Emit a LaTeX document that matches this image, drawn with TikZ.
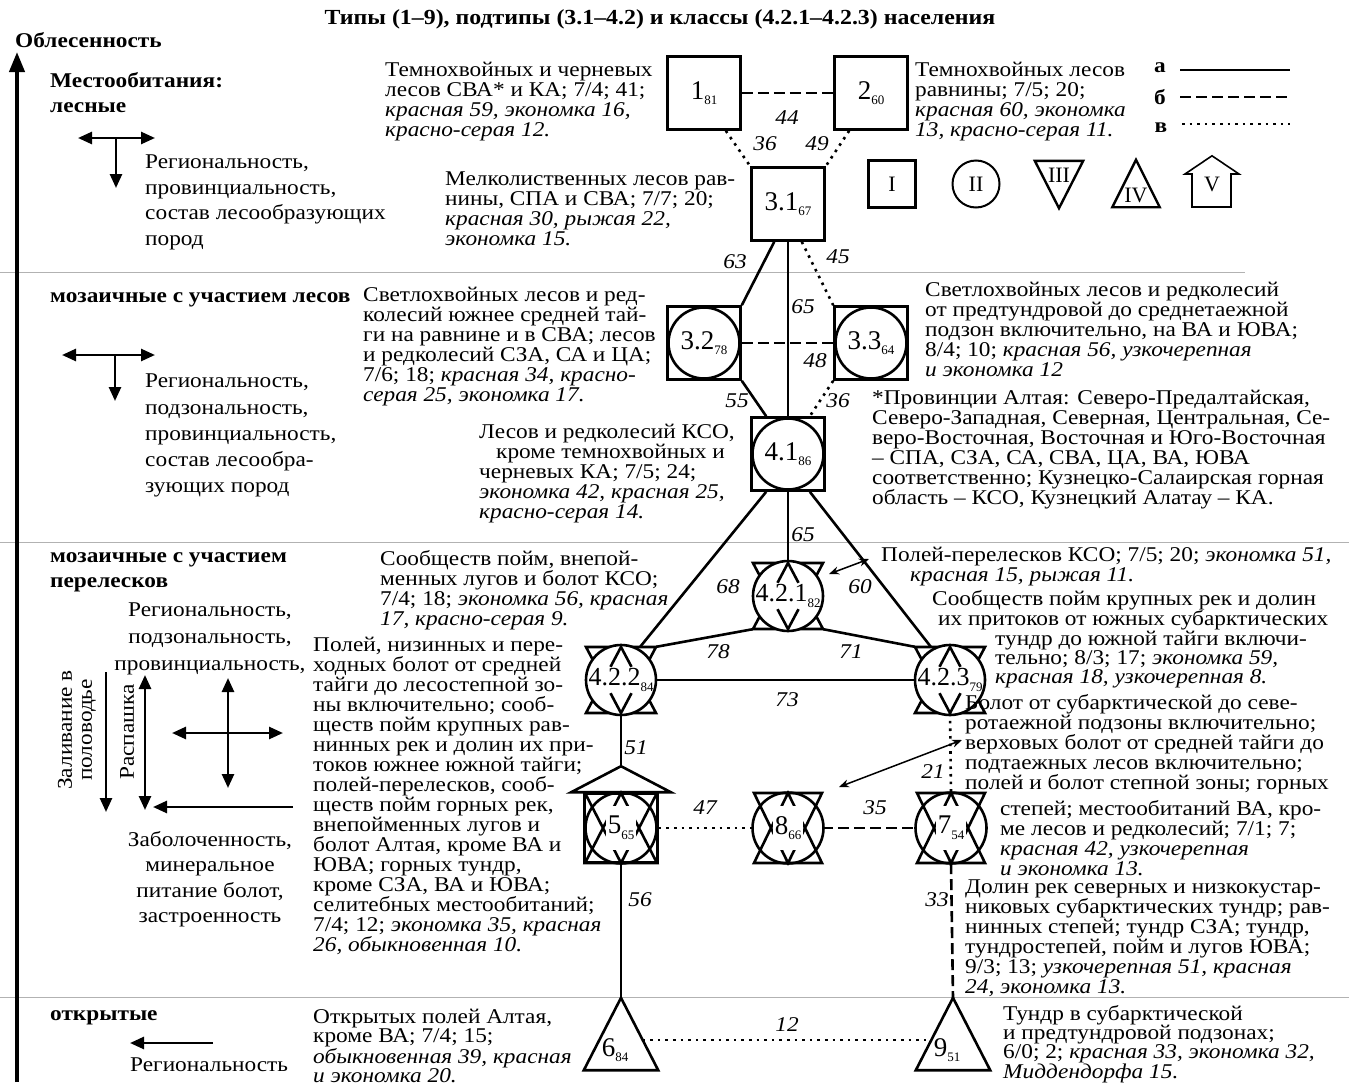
\documentclass[tikz,border=0pt]{standalone}
\usepackage{fontspec}
\setmainfont{Liberation Serif}[FakeStretch=1.11]
\newfontfamily\nstr{Liberation Serif}
\usetikzlibrary{calc,arrows.meta}
\newcommand{\sbs}[1]{\raisebox{-0.45ex}{\fontsize{13}{13}\selectfont #1}}
\newcommand{\tf}{\fontsize{21}{20}\selectfont}
\newcommand{\lf}{\fontsize{21}{25.5}\selectfont}
\newcommand{\hf}{\fontsize{21}{25}\selectfont\bfseries}
\newcommand{\nf}{\nstr\fontsize{27}{27}\selectfont}
\newcommand{\hexag}[3]{%
  \draw[shp] ($(#1)+(-#2,-#3)$) -- ($(#1)+(#2,-#3)$) -- ($(#1)+(0,#3)$) -- cycle
             ($(#1)+(-#2,#3)$) -- ($(#1)+(#2,#3)$) -- ($(#1)+(0,-#3)$) -- cycle;}
\newcommand{\apexm}[3]{%
  \draw[shp] ($(#1)+(-0.3*#2,-0.4*#3)$) -- ($(#1)+(0,-#3)$) -- ($(#1)+(0.3*#2,-0.4*#3)$)
             ($(#1)+(-0.3*#2,0.4*#3)$) -- ($(#1)+(0,#3)$) -- ($(#1)+(0.3*#2,0.4*#3)$);}
\tikzset{
 shp/.style={line width=2.6pt},
 sq/.style={draw, line width=2.6pt, rectangle, minimum size=73pt, inner sep=0pt, font=\nf},
 circ/.style={draw, circle, line width=2.6pt, minimum size=71pt, inner sep=0pt},
 hbox/.style={rectangle, inner sep=0pt, minimum width=70pt, minimum height=66pt},
 hbox2/.style={rectangle, inner sep=0pt, minimum width=68pt, minimum height=70pt},
 tbox/.style={rectangle, inner sep=0pt, minimum width=74pt, minimum height=72pt},
 num/.style={inner sep=0pt, font=\nf},
 numw/.style={inner sep=0pt, font=\nf, fill=white, minimum width=30pt, minimum height=44pt},
 txt/.style={anchor=north west, align=left, inner sep=0pt, font=\tf, yshift=-3pt},
 ltxt/.style={anchor=north west, align=left, inner sep=0pt, font=\lf, yshift=-4pt},
 head/.style={anchor=north west, align=left, inner sep=0pt, font=\hf, yshift=-3pt},
 lbl/.style={inner sep=0pt, font=\tf\itshape},
 con/.style={line width=2.6pt},
 dsh/.style={line width=2.6pt, dash pattern=on 11pt off 5pt},
 dot/.style={line width=2.6pt, dash pattern=on 2.6pt off 5pt},
 sep/.style={gray!60, line width=1pt},
 arr2/.style={line width=2.6pt, {Triangle[length=14pt,width=12pt]}-{Triangle[length=14pt,width=12pt]}},
 arr1/.style={line width=2.6pt, -{Triangle[length=14pt,width=12pt]}},
 thinarr/.style={line width=1.5pt, {Stealth[length=10pt,width=8pt]}-{Stealth[length=10pt,width=8pt]}},
 lgf/.style={inner sep=0pt, font=\nstr\fontsize{22}{22}\selectfont},
}
\begin{document}
\begin{tikzpicture}[x=1pt,y=-1pt]
\useasboundingbox (0,0) rectangle (1349,1084);
% separators
\draw[sep] (0,272) -- (1245,272);
\draw[sep] (0,542) -- (1349,542);
\draw[sep] (0,997) -- (1349,997);
% title and main axis
\node[font=\fontsize{21.5}{21.5}\selectfont\bfseries, inner sep=0pt] (title) at (660,19) {Типы (1–9), подтипы (3.1–4.2) и классы (4.2.1–4.2.3) населения};
\node[head] (hOb) at (15,29) {Облесенность};
\draw[line width=4pt, -{Triangle[length=20pt,width=15pt]}] (17,1082) -- (17,52);
% left column
\node[head] (h1) at (50,69) {Местообитания:\\лесные};
\draw[arr2] (78,138) -- (155,138);
\draw[arr1] (116,138) -- (116,188);
\node[ltxt] (l1) at (145,151) {Региональность,\\провинциальность,\\состав лесообразующих\\пород};
\node[head] (h2) at (50,289) {мозаичные с участием лесов};
\draw[arr2] (62,355) -- (155,355);
\draw[arr1] (115,355) -- (115,401);
\node[ltxt, font=\fontsize{21}{26.2}\selectfont] (l2) at (145,370) {Региональность,\\подзональность,\\провинциальность,\\состав лесообра-\\зующих пород};
\node[head] (h3) at (50,549) {мозаичные с участием\\перелесков};
\node[anchor=north, align=center, inner sep=0pt, font=\fontsize{21}{27}\selectfont] (l3) at (210,603) {Региональность,\\подзональность,\\провинциальность,};
\node[rotate=90, align=center, inner sep=0pt, font=\fontsize{21}{20}\selectfont] (l4) at (77,730) {Заливание в\\половодье};
\node[rotate=90, inner sep=0pt, font=\tf] (l5) at (127,732) {Распашка};
\draw[arr1] (106,672) -- (106,812);
\draw[arr2] (145,675) -- (145,810);
\draw[arr2] (172,733) -- (283,733);
\draw[arr2] (228,678) -- (228,788);
\draw[arr1] (293,807) -- (153,807);
\node[anchor=north, align=center, inner sep=0pt, font=\lf] (l6) at (210,831) {Заболоченность,\\минеральное\\питание болот,\\застроенность};
\node[head] (h4) at (50,1007) {открытые};
\draw[arr1] (213,1043) -- (130,1043);
\node[ltxt] (l7) at (130,1054) {Региональность};
% legend
\node[font=\hf, inner sep=0pt] (la) at (1160,68) {а};
\node[font=\hf, inner sep=0pt] (lb) at (1160,97) {б};
\node[font=\hf, inner sep=0pt] (lc) at (1161,128) {в};
\coordinate (la1) at (1180,70); \coordinate (la2) at (1290,70);
\coordinate (lb1) at (1180,97); \coordinate (lb2) at (1290,97);
\coordinate (lc1) at (1182,124); \coordinate (lc2) at (1290,124);
\draw[con] (la1) -- (la2);
\draw[dsh] (lb1) -- (lb2);
\draw[dot] (lc1) -- (lc2);
\node[lgf, draw, line width=2.6pt, minimum size=47pt] (lgI) at (892,184) {I};
\node[lgf, draw, circle, line width=2pt, minimum size=47pt] (lgII) at (976,184) {II};
\node[rectangle, minimum width=48pt, minimum height=47pt, inner sep=0pt] (lgIII) at (1059,184.5) {};
\draw[line width=2.4pt] (lgIII.north west) -- (lgIII.north east) -- (lgIII.south) -- cycle;
\node[lgf] (lgIIIt) at (1059,175) {III};
\node[rectangle, minimum width=47pt, minimum height=47pt, inner sep=0pt] (lgIV) at (1136,183.5) {};
\draw[line width=2.4pt] (lgIV.south west) -- (lgIV.south east) -- (lgIV.north) -- cycle;
\node[lgf] (lgIVt) at (1136,195) {IV};
\node[rectangle, minimum width=54pt, minimum height=51pt, inner sep=0pt] (lgV) at (1212,181.5) {};
\draw[line width=1.6pt] (1192,207) -- (1192,174) -- (1185,174) -- (lgV.north) -- (1239,174) -- (1231,174) -- (1231,207) -- cycle;
\node[lgf] (lgVt) at (1212,184) {V};
% ===== nodes =====
\node[sq] (n1) at (704,93) {1\sbs{81}};
\node[sq] (n2) at (871,93) {2\sbs{60}};
\node[sq] (n31) at (788,204) {3.1\sbs{67}};
\node[sq] (n32) at (704,343) {};
\node[circ] (n32c) at (n32) {};
\node[num] (n32t) at (n32) {3.2\sbs{78}};
\node[sq] (n33) at (871,343) {};
\node[circ] (n33c) at (n33) {};
\node[num] (n33t) at (n33) {3.3\sbs{64}};
\node[sq] (n41) at (788,454) {};
\node[circ] (n41c) at (n41) {};
\node[num] (n41t) at (n41) {4.1\sbs{86}};
% class 4.2.x
\foreach \nm/\px/\py/\lab/\sub in {n421/788/596/4.2.1/82, n422/621/680/4.2.2/84, n423/950/680/4.2.3/79}{
  \node[hbox] (\nm) at (\px,\py) {};
  \hexag{\nm}{35}{33}
  \node[circ, fill=white, minimum size=70pt] (\nm c) at (\nm) {};
  \apexm{\nm}{35}{33}
  \node[num, font=\nstr\fontsize{26}{26}\selectfont] (\nm t) at (\nm) {\lab\sbs{\sub}};
}
% type 5, 8, 7
\node[draw, line width=2.6pt, minimum width=73pt, minimum height=69pt, inner sep=0pt] (n5) at (621,828) {};
\coordinate (n5top) at ($(n5.north)+(0,-26)$);
\draw[shp] ($(n5.north west)+(-12,0)$) -- (n5top) -- ($(n5.north east)+(12,0)$) -- cycle;
\hexag{n5}{36}{35}
\node[circ] (n5c) at (n5) {};
\node[numw] (n5t) at (n5) {5\sbs{65}};
\node[hbox2] (n8) at (788,828) {};
\hexag{n8}{34}{35}
\node[circ] (n8c) at (n8) {};
\node[numw] (n8t) at (n8) {8\sbs{66}};
\node[hbox2] (n7) at (951,828) {};
\hexag{n7}{34}{35}
\node[circ] (n7c) at (n7) {};
\node[numw] (n7t) at (n7) {7\sbs{54}};
% types 6, 9
\node[tbox] (n6) at (621,1034) {};
\draw[shp] (n6.north) -- (n6.south east) -- (n6.south west) -- cycle;
\node[num] (n6t) at (615,1050) {6\sbs{84}};
\node[tbox] (n9) at (953,1034) {};
\draw[shp] (n9.north) -- (n9.south east) -- (n9.south west) -- cycle;
\node[num] (n9t) at (947,1050) {9\sbs{51}};
% ===== connectors =====
\draw[dsh] (n1.east) -- (n2.west);
\draw[dot] (n1.-60) -- (n31.north west);
\draw[dot] (n2.240) -- (n31.north east);
\draw[con] (n31.-110) -- (n32.north east);
\draw[dot] (n31.-70) -- (n33.north west);
\draw[con] (n31.south) -- (n41.north);
\draw[dsh] (n32.east) -- (n33.west);
\draw[con] (n32.south east) -- (n41.120);
\draw[dot] (n33.south west) -- (n41.60);
\draw[con] (n41.-120) -- (n422.60);
\draw[con] (n41.-60) -- (n423.120);
\draw[con] (n41.south) -- (n421.north);
\draw[con] (n422.north east) -- (n421.south west);
\draw[con] (n421.south east) -- (n423.north west);
\draw[con] (n422.east) -- (n423.west);
\draw[con] (n422.south) -- (n5top);
\draw[dot] (n423.south) -- (n7.north);
\draw[dot] (n5.east) -- (n8.west);
\draw[dsh] (n8.east) -- (n7.west);
\draw[con] (n5.south) -- (n6.north);
\draw[dsh] (n7.south) -- (n9.north);
\draw[dot] ($(n6.north)!0.58!(n6.south east)$) -- ($(n9.north)!0.58!(n9.south west)$);
% thin double arrows
\coordinate (d1a) at (829,574); \coordinate (d1b) at (869,559);
\draw[thinarr] (d1a) -- (d1b);
\coordinate (d2a) at (962,740); \coordinate (d2b) at (839,787);
\draw[thinarr] (d2a) -- (d2b);
% connector labels
\node[lbl] (e1) at (787,118) {44};
\node[lbl] (e2) at (765,144) {36};
\node[lbl] (e3) at (817,144) {49};
\node[lbl] (e4) at (735,262) {63};
\node[lbl] (e5) at (838,257) {45};
\node[lbl] (e6) at (803,307) {65};
\node[lbl] (e7) at (815,361) {48};
\node[lbl] (e8) at (737,401) {55};
\node[lbl] (e9) at (838,401) {36};
\node[lbl] (e10) at (803,535) {65};
\node[lbl] (e11) at (728,587) {68};
\node[lbl] (e12) at (860,587) {60};
\node[lbl] (e13) at (718,652) {78};
\node[lbl] (e14) at (851,652) {71};
\node[lbl] (e15) at (787,700) {73};
\node[lbl] (e16) at (636,748) {51};
\node[lbl] (e17) at (933,772) {21};
\node[lbl] (e18) at (705,808) {47};
\node[lbl] (e19) at (875,808) {35};
\node[lbl] (e20) at (640,900) {56};
\node[lbl] (e21) at (937,900) {33};
\node[lbl] (e22) at (787,1025) {12};
% ===== descriptions =====
\node[txt] (t1) at (385,59) {Темнохвойных и черневых\\лесов СВА* и КА; 7/4; 41;\\\textit{красная 59, экономка 16,}\\\textit{красно-серая 12.}};
\node[txt] (t2) at (915,59) {Темнохвойных лесов\\равнины; 7/5; 20;\\\textit{красная 60, экономка}\\\textit{13, красно-серая 11.}};
\node[txt] (t3) at (445,169) {Мелколиственных лесов рав-\\нины, СПА и СВА; 7/7; 20;\\\textit{красная 30, рыжая 22,}\\\textit{экономка 15.}};
\node[txt] (t4) at (363,284) {Светлохвойных лесов и ред-\\колесий южнее средней тай-\\ги на равнине и в СВА; лесов\\и редколесий СЗА, СА и ЦА;\\7/6; 18; \textit{красная 34, красно-}\\\textit{серая 25, экономка 17.}};
\node[txt] (t5) at (925,279) {Светлохвойных лесов и редколесий\\от предтундровой до среднетаежной\\подзон включительно, на ВА и ЮВА;\\8/4; 10; \textit{красная 56, узкочерепная}\\\textit{и экономка 12}};
\node[txt] (t6) at (872,387) {*Провинции Алтая: Северо-Предалтайская,\\Северо-Западная, Северная, Центральная, Се-\\веро-Восточная, Восточная и Юго-Восточная\\– СПА, СЗА, СА, СВА, ЦА, ВА, ЮВА\\соответственно; Кузнецко-Салаирская горная\\область – КСО, Кузнецкий Алатау – КА.};
\node[txt] (t7) at (479,421) {Лесов и редколесий КСО,\\\hspace*{17pt}кроме темнохвойных и\\черневых КА; 7/5; 24;\\\textit{экономка 42, красная 25,}\\\textit{красно-серая 14.}};
\node[txt] (t8) at (380,547) {Сообществ пойм, внепой-\\менных лугов и болот КСО;\\7/4; 18; \textit{экономка 56, красная}\\\textit{17, красно-серая 9.}};
\node[txt] (t9) at (881,544) {Полей-перелесков КСО; 7/5; 20; \textit{экономка 51,}\\\hspace*{29pt}\textit{красная 15, рыжая 11.}};
\node[txt, font=\fontsize{21}{19.5}\selectfont] (t10a) at (932,587) {Сообществ пойм крупных рек и долин\\\hspace*{6pt}их притоков от южных субарктических};
\node[txt, font=\fontsize{21}{19}\selectfont] (t10b) at (995,628) {тундр до южной тайги включи-\\тельно; 8/3; 17; \textit{экономка 59,}\\\textit{красная 18, узкочерепная 8.}};
\node[txt] (t11a) at (965,691) {Болот от субарктической до севе-\\ротаежной подзоны включительно;\\верховых болот от средней тайги до\\подтаежных лесов включительно;\\полей и болот степной зоны; горных};
\node[txt] (t11b) at (1000,797) {степей; местообитаний ВА, кро-\\ме лесов и редколесий; 7/1; 7;\\\textit{красная 42, узкочерепная}\\\textit{и экономка 13.}};
\node[txt] (t12) at (965,877) {Долин рек северных и низкокустар-\\никовых субарктических тундр; рав-\\нинных степей; тундр СЗА; тундр,\\тундростепей, пойм и лугов ЮВА;\\9/3; 13; \textit{узкочерепная 51, красная}\\\textit{24, экономка 13.}};
\node[txt] (t13) at (313,634) {Полей, низинных и пере-\\ходных болот от средней\\тайги до лесостепной зо-\\ны включительно; сооб-\\ществ пойм крупных рав-\\нинных рек и долин их при-\\токов южнее южной тайги;\\полей-перелесков, сооб-\\ществ пойм горных рек,\\внепойменных лугов и\\болот Алтая, кроме ВА и\\ЮВА; горных тундр,\\кроме СЗА, ВА и ЮВА;\\селитебных местообитаний;\\7/4; 12; \textit{экономка 35, красная}\\\textit{26, обыкновенная 10.}};
\node[txt, font=\fontsize{21}{19}\selectfont] (t14) at (313,1006) {Открытых полей Алтая,\\кроме ВА; 7/4; 15;\\\textit{обыкновенная 39, красная}\\\textit{и экономка 20.}};
\node[txt, font=\fontsize{21}{19}\selectfont] (t15) at (1003,1002) {Тундр в субарктической\\и предтундровой подзонах;\\6/0; 2; \textit{красная 33, экономка 32,}\\\textit{Миддендорфа 15.}};
\end{tikzpicture}
\end{document}
